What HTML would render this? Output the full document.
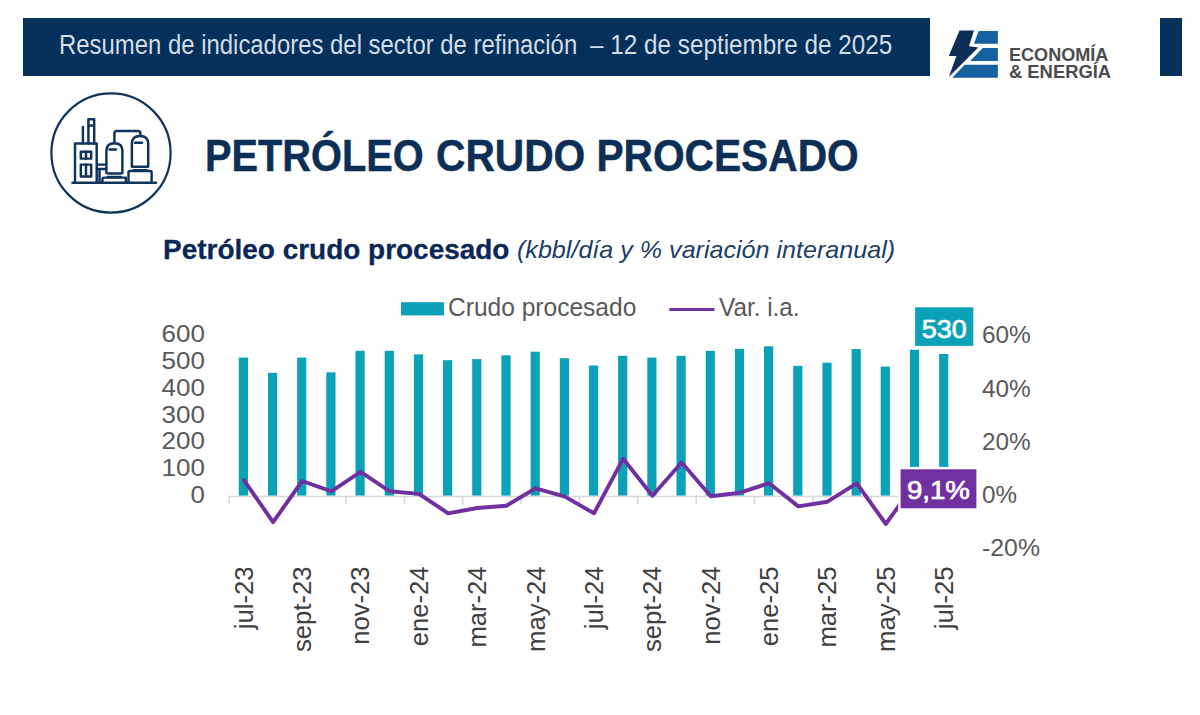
<!DOCTYPE html>
<html lang="es"><head><meta charset="utf-8"><title>Petróleo crudo procesado</title>
<style>
html,body{margin:0;padding:0;background:#fff;}
body{width:1200px;height:715px;position:relative;overflow:hidden;font-family:"Liberation Sans",sans-serif;}
.abs{position:absolute;white-space:pre;transform-origin:left top;line-height:1;}
#bar{left:23px;top:18px;width:907px;height:58px;background:#04305a;}
#bar2{left:1160px;top:18px;width:22px;height:58px;background:#04305a;}
#hdr{left:58.7px;top:32.2px;font-size:26.8px;color:#d3dce7;transform:scaleX(0.892);}
#hdr2{left:590px;top:32.2px;font-size:26.8px;color:#d3dce7;transform:scaleX(0.906);}
#title{left:204.6px;top:133px;font-size:45px;font-weight:700;color:#0b2f57;transform:scaleX(0.883);-webkit-text-stroke:0.5px #0b2f57;}
#title2{left:435.7px;top:133px;font-size:45px;font-weight:700;color:#0b2f57;transform:scaleX(0.904);-webkit-text-stroke:0.5px #0b2f57;}
#ct{left:163px;top:235.5px;font-size:28px;font-weight:700;color:#0a2757;transform:scaleX(0.9985);-webkit-text-stroke:0.3px #0a2757;}
#sub{left:517px;top:238px;font-size:24px;font-style:italic;color:#1d3c66;transform:scaleX(1.046);}
#eco{left:1008.8px;top:45.6px;font-size:18.6px;font-weight:700;color:#4b4b4d;transform:scaleX(0.972);}
#ene{left:1008.8px;top:63.1px;font-size:18.6px;font-weight:700;color:#4b4b4d;transform:scaleX(0.988);}
#leg1{left:448.3px;top:293.6px;font-size:26px;color:#595959;transform:scaleX(0.944);}
#leg2{left:718.5px;top:293.6px;font-size:26px;color:#595959;transform:scaleX(0.935);}
svg{position:absolute;left:0;top:0;}
</style></head><body>
<div class="abs" id="bar"></div><div class="abs" id="bar2"></div>
<div class="abs" id="hdr">Resumen de indicadores del sector de refinación</div>
<div class="abs" id="hdr2">– 12 de septiembre de 2025</div>
<div class="abs" id="title">PETRÓLEO</div>
<div class="abs" id="title2">CRUDO PROCESADO</div>
<div class="abs" id="ct">Petróleo crudo procesado</div>
<div class="abs" id="sub">(kbbl/día y % variación interanual)</div>
<div class="abs" id="eco">ECONOMÍA</div>
<div class="abs" id="ene">&amp; ENERGÍA</div>
<div class="abs" id="leg1">Crudo procesado</div>
<div class="abs" id="leg2">Var. i.a.</div>
<svg width="1200" height="715" viewBox="0 0 1200 715" font-family="Liberation Sans, sans-serif">
<!-- logo -->
<g id="logo">
<polygon points="959.5,30.5 974,30.5 969,46.2 978.2,47.5 948.8,76.9 956.4,55.9 948.8,55.9" fill="#0b2f57"/>
<polygon points="978.6,31.1 997.9,31.1 997.9,43.7 974,43.7" fill="#17609f"/>
<polygon points="982.8,47.9 997.9,47.9 997.9,60.9 970.2,60.9" fill="#17609f"/>
<polygon points="964.8,64.7 997.9,64.7 997.9,77.7 952.2,77.7" fill="#17609f"/>
</g>
<!-- icon -->
<g id="icon" fill="none" stroke="#10335c" stroke-width="2.45" stroke-linejoin="round" stroke-linecap="round">
<circle cx="111" cy="153" r="59.6" stroke-width="2.2"/>
<line x1="72.5" y1="182.7" x2="156" y2="182.7" stroke-width="2.6"/>
<path d="M75,182.7 V143.4 H96.7 V182.7"/>
<rect x="80.8" y="151.8" width="10.4" height="6.8"/><line x1="86" y1="151.8" x2="86" y2="158.6"/>
<rect x="80.8" y="164.6" width="10.4" height="11.8"/><line x1="86" y1="164.6" x2="86" y2="176.4"/>
<line x1="82.9" y1="127" x2="82.9" y2="143.4"/>
<path d="M88.4,143.4 V119.3 H94.2 V143.4 M88.4,125.4 H94.2"/>
<path d="M97,164.6 H106 M97,169 H106 M99.5,169 V182.7"/>
<path d="M106.4,173 V151 Q106.4,143.3 114.4,143.3 Q122.4,143.3 122.4,151 V173"/>
<line x1="109.5" y1="149.5" x2="116" y2="149.5"/>
<path d="M108,173.5 H121 M108,177 H121"/>
<path d="M102.4,182.7 V179.5 Q102.4,177.6 104.4,177.6 H125.8 V182.7"/>
<path d="M131.9,166.8 V143.5 Q131.9,136 140,136 Q148.2,136 148.2,143.5 V166.8"/>
<line x1="135" y1="142.8" x2="142" y2="142.8"/>
<path d="M133.5,166.8 H146.8 M133.5,170.3 H146.8"/>
<path d="M128.5,182.7 V172.3 Q128.5,171 130,171 H150.2 Q151.6,171 151.6,172.3 V182.7"/>
<path d="M114.4,143.3 V133.5 Q114.4,131 117,131 H137.8 Q140.4,131 140.4,133.5 V136"/>
</g>
<!-- legend -->
<rect x="401" y="302.2" width="43" height="13.2" fill="#0ba2b8"/>
<line x1="669.4" y1="309.6" x2="714.5" y2="309.6" stroke="#7030a0" stroke-width="3"/>
<!-- bars -->
<g fill="#0ba2b8"><rect x="238.8" y="357.6" width="9.2" height="138.1"/><rect x="268.0" y="372.9" width="9.2" height="122.8"/><rect x="297.1" y="357.6" width="9.2" height="138.1"/><rect x="326.3" y="372.3" width="9.2" height="123.4"/><rect x="355.5" y="350.8" width="9.2" height="144.9"/><rect x="384.7" y="350.8" width="9.2" height="144.9"/><rect x="413.9" y="354.4" width="9.2" height="141.3"/><rect x="443.0" y="360.2" width="9.2" height="135.5"/><rect x="472.2" y="359.1" width="9.2" height="136.6"/><rect x="501.4" y="355.3" width="9.2" height="140.4"/><rect x="530.6" y="351.7" width="9.2" height="144.0"/><rect x="559.8" y="358.2" width="9.2" height="137.5"/><rect x="588.9" y="365.5" width="9.2" height="130.2"/><rect x="618.1" y="355.8" width="9.2" height="139.9"/><rect x="647.3" y="357.6" width="9.2" height="138.1"/><rect x="676.5" y="355.8" width="9.2" height="139.9"/><rect x="705.7" y="350.8" width="9.2" height="144.9"/><rect x="734.9" y="348.8" width="9.2" height="146.9"/><rect x="764.0" y="346.3" width="9.2" height="149.4"/><rect x="793.2" y="365.8" width="9.2" height="129.9"/><rect x="822.4" y="362.7" width="9.2" height="133.0"/><rect x="851.6" y="349.0" width="9.2" height="146.7"/><rect x="880.7" y="366.6" width="9.2" height="129.1"/><rect x="909.9" y="349.7" width="9.2" height="146.0"/><rect x="939.1" y="354.0" width="9.2" height="141.7"/></g>
<!-- axis -->
<g stroke="#d9d9d9" stroke-width="1.6"><line x1="228.5" y1="496.5" x2="958.8" y2="496.5"/><line x1="229.3" y1="495.7" x2="229.3" y2="504.3"/><line x1="287.7" y1="495.7" x2="287.7" y2="504.3"/><line x1="346.0" y1="495.7" x2="346.0" y2="504.3"/><line x1="404.4" y1="495.7" x2="404.4" y2="504.3"/><line x1="462.7" y1="495.7" x2="462.7" y2="504.3"/><line x1="521.1" y1="495.7" x2="521.1" y2="504.3"/><line x1="579.5" y1="495.7" x2="579.5" y2="504.3"/><line x1="637.8" y1="495.7" x2="637.8" y2="504.3"/><line x1="696.2" y1="495.7" x2="696.2" y2="504.3"/><line x1="754.5" y1="495.7" x2="754.5" y2="504.3"/><line x1="812.9" y1="495.7" x2="812.9" y2="504.3"/><line x1="871.3" y1="495.7" x2="871.3" y2="504.3"/><line x1="929.6" y1="495.7" x2="929.6" y2="504.3"/></g>
<!-- line -->
<polyline points="243.9,480.1 273.1,522.1 302.2,481.0 331.4,491.3 360.6,471.9 389.8,491.3 419.0,493.9 448.1,513.3 477.3,508.0 506.5,505.7 535.7,488.3 564.9,496.6 594.0,513.3 623.2,458.7 652.4,495.7 681.6,462.5 710.8,496.3 740.0,492.7 769.1,483.2 798.3,506.4 827.5,501.7 856.7,483.3 885.8,524.0 915.0,483.3 944.2,471.4" fill="none" stroke="#7030a0" stroke-width="3.9" stroke-linejoin="round" stroke-linecap="round"/>
<!-- data labels -->
<rect x="915.1" y="307.3" width="58.2" height="38.6" fill="#0ba2b8"/>
<text x="944.3" y="337.8" text-anchor="middle" font-size="25.7" fill="#fff" stroke="#fff" stroke-width="0.7" textLength="45" lengthAdjust="spacingAndGlyphs">530</text>
<rect x="899.4" y="468.1" width="78.2" height="41.4" fill="#7030a0" stroke="#fff" stroke-width="2.4"/>
<text x="938.4" y="499.3" text-anchor="middle" font-size="25.7" fill="#fff" stroke="#fff" stroke-width="0.7" textLength="63" lengthAdjust="spacingAndGlyphs">9,1%</text>
<!-- axis labels -->
<g font-size="24.3" fill="#595959"><text x="205" y="502.5" text-anchor="end" textLength="14.4" lengthAdjust="spacingAndGlyphs">0</text><text x="205" y="475.8" text-anchor="end" textLength="43.4" lengthAdjust="spacingAndGlyphs">100</text><text x="205" y="449.1" text-anchor="end" textLength="43.4" lengthAdjust="spacingAndGlyphs">200</text><text x="205" y="422.5" text-anchor="end" textLength="43.4" lengthAdjust="spacingAndGlyphs">300</text><text x="205" y="395.8" text-anchor="end" textLength="43.4" lengthAdjust="spacingAndGlyphs">400</text><text x="205" y="369.1" text-anchor="end" textLength="43.4" lengthAdjust="spacingAndGlyphs">500</text><text x="205" y="342.4" text-anchor="end" textLength="43.4" lengthAdjust="spacingAndGlyphs">600</text><text x="982" y="556.2" textLength="58" lengthAdjust="spacingAndGlyphs">-20%</text><text x="982" y="503.0" textLength="35" lengthAdjust="spacingAndGlyphs">0%</text><text x="982" y="449.8" textLength="48.8" lengthAdjust="spacingAndGlyphs">20%</text><text x="982" y="396.6" textLength="48.8" lengthAdjust="spacingAndGlyphs">40%</text><text x="982" y="343.4" textLength="48.8" lengthAdjust="spacingAndGlyphs">60%</text></g>
<g font-size="25.5" fill="#404040"><text transform="translate(252.7,566.5) rotate(-90) scale(1.005,1)" text-anchor="end">jul-23</text><text transform="translate(311.1,566.5) rotate(-90) scale(1.005,1)" text-anchor="end">sept-23</text><text transform="translate(369.4,566.5) rotate(-90) scale(1.005,1)" text-anchor="end">nov-23</text><text transform="translate(427.8,566.5) rotate(-90) scale(1.005,1)" text-anchor="end">ene-24</text><text transform="translate(486.1,566.5) rotate(-90) scale(1.005,1)" text-anchor="end">mar-24</text><text transform="translate(544.5,566.5) rotate(-90) scale(1.005,1)" text-anchor="end">may-24</text><text transform="translate(602.8,566.5) rotate(-90) scale(1.005,1)" text-anchor="end">jul-24</text><text transform="translate(661.2,566.5) rotate(-90) scale(1.005,1)" text-anchor="end">sept-24</text><text transform="translate(719.6,566.5) rotate(-90) scale(1.005,1)" text-anchor="end">nov-24</text><text transform="translate(777.9,566.5) rotate(-90) scale(1.005,1)" text-anchor="end">ene-25</text><text transform="translate(836.3,566.5) rotate(-90) scale(1.005,1)" text-anchor="end">mar-25</text><text transform="translate(894.6,566.5) rotate(-90) scale(1.005,1)" text-anchor="end">may-25</text><text transform="translate(953.0,566.5) rotate(-90) scale(1.005,1)" text-anchor="end">jul-25</text></g>
</svg>
</body></html>
